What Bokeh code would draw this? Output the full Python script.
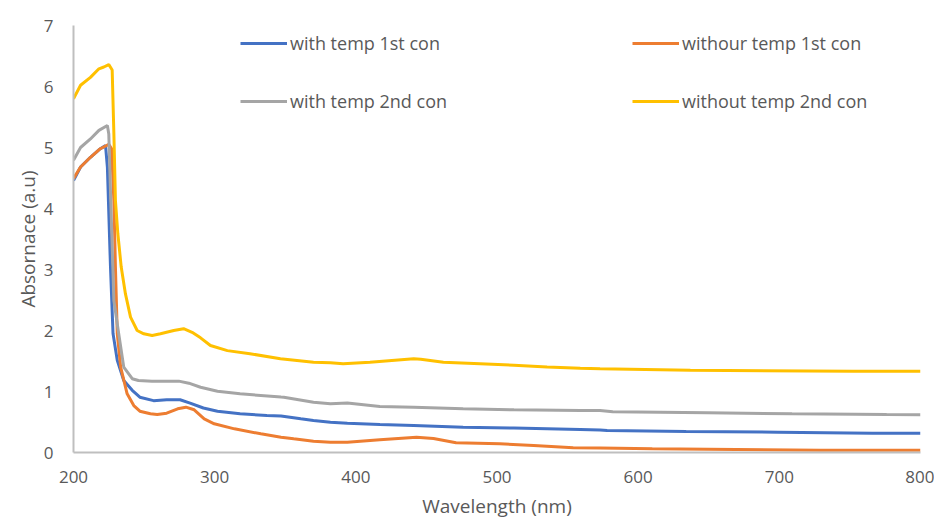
from bokeh.plotting import figure
from bokeh.models import Legend, LegendItem, Range1d, FixedTicker
from bokeh.embed import file_html
from bokeh.resources import INLINE

# ---- data ----
wl_blue = [200, 205, 212, 219, 222.7, 224, 226.2, 228, 231, 235.6, 241.6, 247, 256.7, 266, 275.5, 282.6,
           292, 302, 318, 337, 347, 361, 370, 382, 394, 417, 441, 476, 512, 559, 573, 578, 634, 699, 766, 800]
ab_blue = [4.46, 4.68, 4.84, 4.98, 5.03, 4.68, 3.04, 1.95, 1.51, 1.18, 1.02, 0.907, 0.85, 0.864, 0.864, 0.81,
           0.73, 0.677, 0.634, 0.607, 0.6, 0.552, 0.525, 0.497, 0.48, 0.459, 0.443, 0.415, 0.40, 0.377, 0.37, 0.36,
           0.344, 0.333, 0.317, 0.315]

wl_orange = [200, 205, 212, 219, 225, 227, 228.6, 229.7, 231, 233.4, 238, 242.7, 247, 254.5, 259.3, 266, 273.8,
             279.6, 285.5, 292.6, 299.7, 314, 332.7, 347, 356, 370, 382, 394, 417, 443, 455, 471, 502, 526, 554,
             573, 610, 729, 800]
ab_orange = [4.49, 4.68, 4.84, 4.98, 5.05, 4.98, 4.13, 3.04, 1.95, 1.40, 0.962, 0.77, 0.677, 0.634, 0.623, 0.644,
             0.716, 0.743, 0.70, 0.552, 0.47, 0.388, 0.306, 0.251, 0.224, 0.186, 0.169, 0.169, 0.208, 0.251, 0.23,
             0.16, 0.142, 0.115, 0.077, 0.075, 0.06, 0.038, 0.036]

wl_gray = [200, 205, 212, 218, 224, 225, 226.4, 227.5, 228.6, 232, 235.6, 241.6, 246, 255.6, 274.6, 281.7, 290,
           302, 318, 347, 349, 370, 382, 394, 417, 441, 476, 512, 559, 573, 582, 649, 709, 776, 800]
ab_gray = [4.79, 5.0, 5.14, 5.28, 5.36, 5.22, 4.13, 3.31, 2.49, 1.95, 1.40, 1.21, 1.18, 1.17, 1.17, 1.136, 1.07,
           1.005, 0.962, 0.91, 0.907, 0.825, 0.80, 0.81, 0.754, 0.743, 0.716, 0.70, 0.69, 0.689, 0.667, 0.65,
           0.634, 0.623, 0.62]

wl_yellow = [200, 205, 212, 218, 221.5, 225, 227.4, 228.6, 229.7, 231.4, 233.8, 236.8, 240.4, 245.1, 249.8, 255.7,
             261.6, 271, 278, 284, 290, 297, 309, 325, 346.6, 370, 382, 391, 410, 441, 446, 462, 488, 512, 535.5,
             559, 573, 637, 752.5, 800]
ab_yellow = [5.80, 6.02, 6.15, 6.29, 6.32, 6.36, 6.27, 5.23, 4.13, 3.59, 3.04, 2.60, 2.22, 2.0, 1.946, 1.918,
             1.946, 2.0, 2.03, 1.97, 1.88, 1.754, 1.67, 1.62, 1.536, 1.48, 1.47, 1.454, 1.48, 1.536, 1.53, 1.48,
             1.454, 1.43, 1.40, 1.38, 1.372, 1.349, 1.333, 1.333]

x_ticks = [200, 300, 400, 500, 600, 700, 800]
y_ticks = [0, 1, 2, 3, 4, 5, 6, 7]

series = [
    ("with temp 1st con", wl_blue, ab_blue, "#4472C4"),
    ("withour temp 1st con", wl_orange, ab_orange, "#ED7D31"),
    ("with temp 2nd con", wl_gray, ab_gray, "#A5A5A5"),
    ("without temp 2nd con", wl_yellow, ab_yellow, "#FFC000"),
]

FONT = "Open Sans"
TXT = "#595959"

p = figure(width=934, height=522, output_backend="svg", toolbar_location=None,
           x_range=Range1d(200, 800), y_range=Range1d(0, 7),
           min_border_left=73, min_border_right=14, min_border_top=25, min_border_bottom=70)
p.outline_line_color = None
p.xgrid.grid_line_color = None
p.ygrid.grid_line_color = None

renderers = {}
for name, xs, ys, col in series:
    renderers[name] = p.line(xs, ys, line_color=col, line_width=3)

for ax in (p.xaxis[0], p.yaxis[0]):
    ax.axis_line_color = "#BFBFBF"
    ax.axis_line_width = 2
    ax.major_tick_line_color = None
    ax.minor_tick_line_color = None
    ax.major_label_text_font = FONT
    ax.major_label_text_font_size = "17px"
    ax.major_label_text_color = TXT
    ax.axis_label_text_font = FONT
    ax.axis_label_text_font_size = "19px"
    ax.axis_label_text_color = TXT
    ax.axis_label_text_font_style = "normal"

p.xaxis.ticker = FixedTicker(ticks=x_ticks)
p.yaxis.ticker = FixedTicker(ticks=y_ticks)
p.xaxis.axis_label = "Wavelength (nm)"
p.yaxis.axis_label = "Absornace (a.u)"
p.xaxis.major_label_standoff = 12
p.yaxis.major_label_standoff = 14
p.xaxis.axis_label_standoff = 7
p.yaxis.axis_label_standoff = 0


def make_legend(names, loc):
    leg = Legend(items=[LegendItem(label=n, renderers=[renderers[n]]) for n in names],
                 location=loc, orientation="vertical")
    leg.border_line_color = None
    leg.background_fill_alpha = 0
    leg.glyph_width = 47
    leg.glyph_height = 20
    leg.label_height = 20
    leg.label_standoff = 3
    leg.spacing = 34
    leg.padding = 0
    leg.margin = 0
    leg.label_text_font = FONT
    leg.label_text_font_size = "18px"
    leg.label_text_color = TXT
    return leg

p.add_layout(make_legend(["with temp 1st con", "with temp 2nd con"], (167, 339)))
p.add_layout(make_legend(["withour temp 1st con", "without temp 2nd con"], (559, 339)))

open("out.html", "w").write(file_html(p, INLINE))
